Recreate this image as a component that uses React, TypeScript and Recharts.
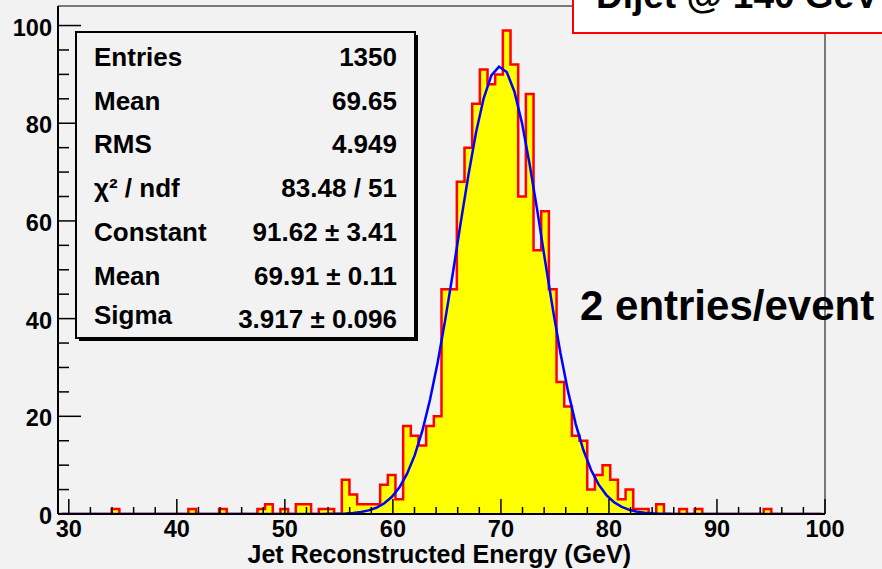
import React from "react";
import { ComposedChart, Area, Line, XAxis, YAxis, ReferenceLine } from "recharts";

// ---- data ----
const HIST_MIN = 29;
const HIST_MAX = 100;
const N_BINS = 100;

// bin contents (100 bins, 29..100 GeV)
const counts: number[] = [
  0, 0, 0, 0, 0, 0, 0, 1, 0, 0,
  0, 0, 0, 0, 0, 0, 0, 1, 0, 0,
  0, 1, 0, 0, 0, 0, 1, 2, 0, 1,
  0, 2, 2, 0, 1, 1, 0, 7, 4, 2,
  2, 2, 6, 8, 3, 18, 16, 14, 18, 20,
  46, 46, 68, 75, 84, 91, 88, 90, 99, 92,
  65, 86, 54, 62, 46, 27, 22, 16, 15, 5,
  8, 10, 7, 3, 5, 1, 1, 0, 2, 0,
  0, 1, 0, 1, 0, 0, 0, 0, 0, 0,
  0, 0, 1, 0, 0, 0, 0, 0, 0, 0,
];

const fitValues: number[] = [
  0, 0, 0, 0, 0, 0, 0, 0, 0, 0,
  0, 0, 0, 0, 0, 0, 0, 0, 0, 0,
  0, 0, 0, 0, 0, 0, 0, 0, 0, 0,
  0, 0, 0, 0, 0.01, 0.03, 0.06, 0.12, 0.23, 0.42,
  0.74, 1.28, 2.14, 3.47, 5.42, 8.2, 12.0, 17.0, 23.4, 31.0,
  39.9, 49.5, 59.6, 69.3, 78.1, 85.1, 89.8, 91.6, 90.5, 86.5,
  80.0, 71.5, 62.0, 51.9, 42.1, 33.0, 25.1, 18.4, 13.1, 9.0,
  6.0, 3.87, 2.41, 1.45, 0.85, 0.48, 0.26, 0.14, 0.07, 0.04,
  0.02, 0, 0, 0, 0, 0, 0, 0, 0, 0,
  0, 0, 0, 0, 0, 0, 0, 0, 0, 0,
];

const xTicks = [30, 32, 34, 36, 38, 40, 42, 44, 46, 48, 50, 52, 54, 56, 58, 60, 62, 64, 66, 68, 70, 72, 74, 76, 78, 80, 82, 84, 86, 88, 90, 92, 94, 96, 98, 100];
const xLabels = [30, 40, 50, 60, 70, 80, 90, 100];
const yTicks = [0, 5, 10, 15, 20, 25, 30, 35, 40, 45, 50, 55, 60, 65, 70, 75, 80, 85, 90, 95, 100];
const yLabels = [0, 20, 40, 60, 80, 100];
const Y_MAX = 104;

const statLabels = ["Entries", "Mean", "RMS", "χ² / ndf", "Constant", "Mean", "Sigma"];
const statValues = ["1350", "69.65", "4.949", "83.48 / 51", "91.62 ± 3.41", "69.91 ± 0.11", "3.917 ± 0.096"];

const titleText = "Dijet @ 140 GeV";
const noteText = "2 entries/event";
const xTitle = "Jet Reconstructed Energy (GeV)";

// ---- build series tables ----
const binW = (HIST_MAX - HIST_MIN) / N_BINS;
const histData = counts.map((c, i) => ({ x: HIST_MIN + i * binW, h: c }));
histData.push({ x: HIST_MAX, h: counts[counts.length - 1] });
const fitData = fitValues.map((f, i) => ({ x: HIST_MIN + (i + 0.5) * binW, f }));

// ---- layout ----
const W = 882;
const H = 569;
const M_TOP = 6;
const M_RIGHT = 57;
const YAXIS_W = 58;
const XAXIS_H = 55;
const PLOT_LEFT = YAXIS_W;
const PLOT_BOTTOM = H - XAXIS_H;
const FONT = "'Liberation Sans', Arial, Helvetica, sans-serif";
const BG = "#f2f2f2";

const XTick = (props: any) => {
  const { x, payload } = props;
  const v = payload.value as number;
  const major = xLabels.includes(v);
  return (
    <g>
      <line x1={x} x2={x} y1={PLOT_BOTTOM} y2={PLOT_BOTTOM - (major ? 15 : 7)} stroke="#000" strokeWidth={1.5} />
      {major && (
        <text x={x} y={537} textAnchor="middle" fontFamily={FONT} fontWeight="bold" fontSize={23.5} fill="#000">
          {v}
        </text>
      )}
    </g>
  );
};

const YTick = (props: any) => {
  const { y, payload } = props;
  const v = payload.value as number;
  const major = yLabels.includes(v);
  return (
    <g>
      <line x1={PLOT_LEFT} x2={PLOT_LEFT + (major ? 23 : 11)} y1={y} y2={y} stroke="#000" strokeWidth={1.5} />
      {major && (
        <text x={52} y={y + 10} textAnchor="end" fontFamily={FONT} fontWeight="bold" fontSize={23.5} fill="#000">
          {v}
        </text>
      )}
    </g>
  );
};

export default function App() {
  const rowBase = [66, 109.7, 153.4, 197.1, 240.8, 284.5, 328.2];
  return (
    <div style={{ position: "absolute", left: 0, top: 0, width: W, height: H, background: BG, overflow: "hidden" }}>
      <ComposedChart
        width={W}
        height={H}
        margin={{ top: M_TOP, right: M_RIGHT, bottom: 0, left: 0 }}
        style={{ position: "absolute", left: 0, top: 0 }}
      >
        <XAxis
          dataKey="x"
          type="number"
          domain={[HIST_MIN, HIST_MAX]}
          allowDataOverflow
          ticks={xTicks}
          interval={0}
          height={XAXIS_H}
          tickLine={false}
          axisLine={{ stroke: "#000", strokeWidth: 2 }}
          tick={<XTick />}
        />
        <YAxis
          type="number"
          domain={[0, Y_MAX]}
          allowDataOverflow
          ticks={yTicks}
          interval={0}
          width={YAXIS_W}
          tickLine={false}
          axisLine={{ stroke: "#000", strokeWidth: 2 }}
          tick={<YTick />}
        />
        <ReferenceLine y={Y_MAX} stroke="#000" strokeWidth={1} />
        <ReferenceLine x={HIST_MAX} stroke="#000" strokeWidth={1} />
        <Area
          data={histData}
          dataKey="h"
          type="stepAfter"
          fill="#ffff00"
          fillOpacity={1}
          stroke="#ff0000"
          strokeWidth={2.5}
          isAnimationActive={false}
          dot={false}
          activeDot={false}
        />
        <Line
          data={fitData}
          dataKey="f"
          type="linear"
          stroke="#0000ff"
          strokeWidth={2.5}
          dot={false}
          activeDot={false}
          isAnimationActive={false}
        />
      </ComposedChart>
      <svg width={W} height={H} style={{ position: "absolute", left: 0, top: 0 }}>
        {/* stats box */}
        <rect x={79} y={35} width={339} height={306} fill="#000" />
        <rect x={76} y={32} width={339} height={306} fill={BG} stroke="#000" strokeWidth={2} />
        {statLabels.map((l, i) => (
          <text key={"l" + i} x={94} y={i === 6 ? 324 : rowBase[i]} fontFamily={FONT} fontWeight="bold" fontSize={26} fill="#000">
            {l}
          </text>
        ))}
        {statValues.map((v, i) => (
          <text key={"v" + i} x={397} y={rowBase[i]} textAnchor="end" fontFamily={FONT} fontWeight="bold" fontSize={26} fill="#000">
            {v}
          </text>
        ))}
        {/* annotation */}
        <text x={580} y={320} fontFamily={FONT} fontWeight="bold" fontSize={42} fill="#000">
          {noteText}
        </text>
        {/* title box */}
        <rect x={573} y={-10} width={330} height={43} fill="#fff" stroke="#ff0000" strokeWidth={2} />
        <text x={596} y={8} fontFamily={FONT} fontWeight="bold" fontSize={37} fill="#000">
          {titleText}
        </text>
        {/* x axis title */}
        <text x={631} y={563} textAnchor="end" fontFamily={FONT} fontWeight="bold" fontSize={25} fill="#000">
          {xTitle}
        </text>
      </svg>
    </div>
  );
}
